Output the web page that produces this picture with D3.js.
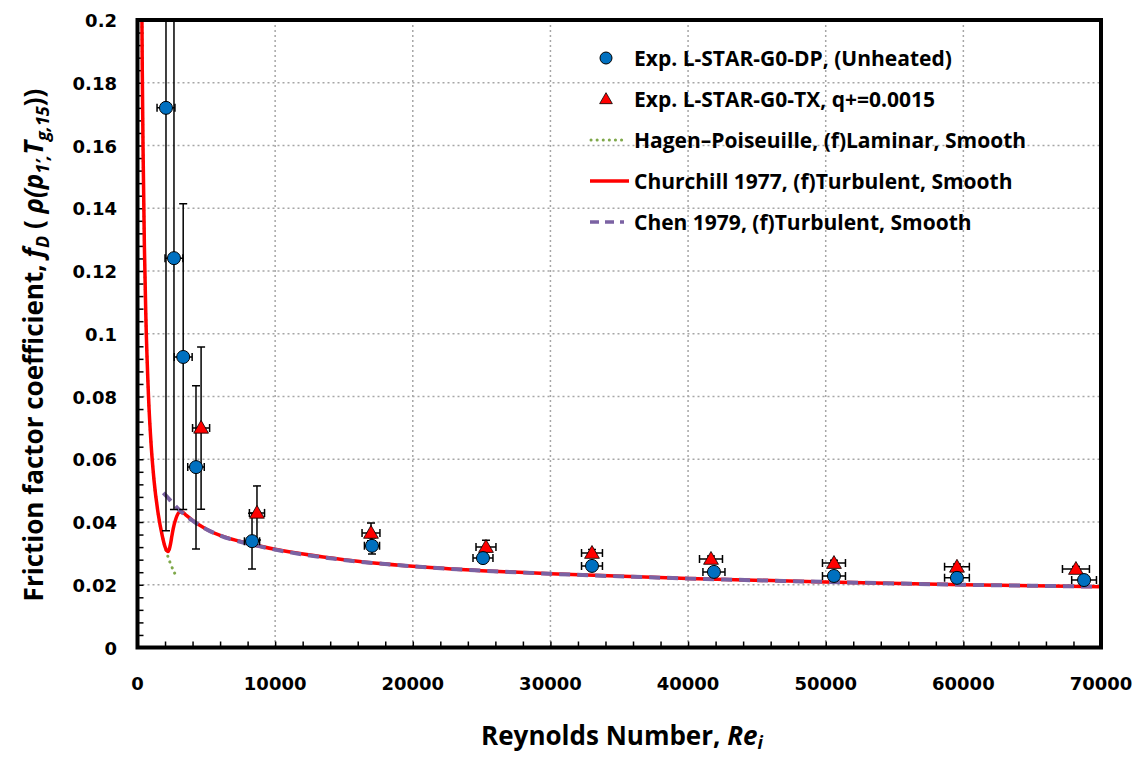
<!DOCTYPE html>
<html>
<head>
<meta charset="utf-8">
<script src="https://cdn.jsdelivr.net/npm/d3@7"></script>
<style>
  body { margin: 0; background: #fff; }
  svg { display: block; }
  .tick-label { font-family: "DejaVu Sans", sans-serif; font-weight: bold; font-size: 18px; }
  .title { font-family: "Open Sans", Lato, sans-serif; font-weight: bold; }
</style>
</head>
<body>
<svg id="chart" width="1140" height="758"></svg>
<script>
// ---- data ----
// experimental points: Re, f, x error, y error (low / high)
const dpRe    = [2070, 2650, 3320, 4250, 8320, 17036, 25100, 33020, 41880, 50600, 59535, 68770]
const dpF     = [0.172, 0.1241, 0.0926, 0.0575, 0.0339, 0.0324, 0.0285, 0.0260, 0.0241, 0.0228, 0.0222, 0.0215]
const dpXErr  = [650, 650, 650, 600, 550, 550, 725, 760, 800, 835, 900, 900]
const dpYLo   = [0.0372, 0.0440, 0.0440, 0.0314, 0.0250, 0.0298, 0.0275, 0.0252, 0.0233, 0.0221, 0.0215, 0.0209]
const dpYHi   = [0.30, 0.30, 0.1414, 0.0834, 0.0428, 0.0350, 0.0295, 0.0268, 0.0249, 0.0235, 0.0229, 0.0221]

const txRe    = [4620, 8680, 16964, 25318, 33020, 41665, 50600, 59535, 68180]
const txF     = [0.0700, 0.0429, 0.0365, 0.0320, 0.0301, 0.0282, 0.0269, 0.0257, 0.0250]
const txXErr  = [620, 550, 650, 725, 760, 835, 835, 900, 980]
const txYLo   = [0.0441, 0.0343, 0.0340, 0.0305, 0.0290, 0.0272, 0.0260, 0.0248, 0.0242]
const txYHi   = [0.0958, 0.0515, 0.0397, 0.0342, 0.0312, 0.0292, 0.0278, 0.0266, 0.0258]

// Hagen–Poiseuille (laminar) curve
const hpRe = [300, 350, 400, 500, 600, 800, 1000, 1200, 1500, 1800, 2100, 2400, 2700]
const hpF  = [0.2133, 0.1829, 0.160, 0.128, 0.1067, 0.080, 0.064, 0.0533, 0.0427, 0.0356, 0.0305, 0.0267, 0.0237]

// Churchill 1977 curve
const chRe = [300, 350, 400, 500, 600, 800, 1000, 1200, 1500, 1800, 2000, 2100, 2200, 2300, 2400, 2500, 2600, 2800,
              3000, 3200, 3500, 4000, 5000, 6000, 8000, 10000, 15000, 20000, 25000, 30000, 40000, 50000, 60000, 70000]
const chF  = [0.2133, 0.1829, 0.160, 0.128, 0.1067, 0.080, 0.064, 0.0533, 0.0427, 0.0356, 0.0321, 0.0310, 0.0306, 0.0312, 0.0330, 0.0356, 0.0380, 0.0412,
              0.0430, 0.0433, 0.0423, 0.0405, 0.0377, 0.0357, 0.0332, 0.0313, 0.0280, 0.0259, 0.0245, 0.0235, 0.0220, 0.0209, 0.0200, 0.0194]

// Chen 1979 curve
const cnRe = [1880, 2200, 2500, 3000, 3500, 4000, 5000, 6000, 8000, 10000, 15000, 20000, 25000, 30000, 40000, 50000, 60000, 70000]
const cnF  = [0.0493, 0.0478, 0.0463, 0.0440, 0.0421, 0.0404, 0.0377, 0.0357, 0.0331, 0.0312, 0.0279, 0.0259, 0.0245, 0.0235, 0.0220, 0.0209, 0.0200, 0.0194]

const xTicks = [0, 10000, 20000, 30000, 40000, 50000, 60000, 70000]
const yTicks = [0, 0.02, 0.04, 0.06, 0.08, 0.1, 0.12, 0.14, 0.16, 0.18, 0.2]

const legendItems = [
  { label: 'Exp. L-STAR-G0-DP, (Unheated)', kind: 'circle' },
  { label: 'Exp. L-STAR-G0-TX, q+=0.0015', kind: 'triangle' },
  { label: 'Hagen\u2013Poiseuille, (f)Laminar, Smooth', kind: 'hp' },
  { label: 'Churchill 1977, (f)Turbulent, Smooth', kind: 'ch' },
  { label: 'Chen 1979, (f)Turbulent, Smooth', kind: 'cn' },
]

// ---- layout ----
const svg = d3.select('#chart')
const plotLeft = 137.5, plotRight = 1101, plotTop = 20, plotBottom = 647.5

const x = d3.scaleLinear().domain([0, 70000]).range([plotLeft, plotRight])
const y = d3.scaleLinear().domain([0, 0.2]).range([plotBottom, plotTop])

const blue = '#0070C0', red = '#FF0000', purple = '#7B62A3', green = '#7FA84A'

svg.append('defs').append('clipPath').attr('id', 'plot')
  .append('rect').attr('x', plotLeft).attr('y', plotTop)
  .attr('width', plotRight - plotLeft).attr('height', plotBottom - plotTop)

// grid
const grid = svg.append('g')
grid.selectAll('line.gx')
  .data(xTicks.slice(1, -1))
  .join('line')
  .attr('class', 'gx')
  .attr('x1', d => x(d)).attr('x2', d => x(d))
  .attr('y1', plotTop).attr('y2', plotBottom)
  .attr('stroke', '#A6A6A6').attr('stroke-width', 1.5).attr('stroke-dasharray', '2,3')
grid.selectAll('line.gy')
  .data(yTicks.slice(1, -1))
  .join('line')
  .attr('class', 'gy')
  .attr('x1', plotLeft).attr('x2', plotRight)
  .attr('y1', d => y(d)).attr('y2', d => y(d))
  .attr('stroke', '#A6A6A6').attr('stroke-width', 1.5).attr('stroke-dasharray', '2,3')

// axes with inward minor ticks
const xAxis = d3.axisBottom(x).tickValues(d3.range(0, 70001, 2000)).tickSize(-6).tickFormat('')
const yAxis = d3.axisLeft(y).tickValues(d3.range(0, 0.2001, 0.004)).tickSize(-6).tickFormat('')
svg.append('g').attr('transform', `translate(0,${plotBottom})`).call(xAxis)
  .call(g => g.select('.domain').remove())
  .call(g => g.selectAll('line').attr('stroke', '#000').attr('stroke-width', 1.5))
svg.append('g').attr('transform', `translate(${plotLeft},0)`).call(yAxis)
  .call(g => g.select('.domain').remove())
  .call(g => g.selectAll('line').attr('stroke', '#000').attr('stroke-width', 1.5))

// tick labels
svg.append('g').selectAll('text')
  .data(xTicks)
  .join('text')
  .attr('class', 'tick-label')
  .attr('x', d => x(d)).attr('y', 690)
  .attr('text-anchor', 'middle')
  .text(d => d)
svg.append('g').selectAll('text')
  .data(yTicks)
  .join('text')
  .attr('class', 'tick-label')
  .attr('x', 117).attr('y', d => y(d) + 7)
  .attr('text-anchor', 'end')
  .text(d => +d.toFixed(2))

// curves
const plot = svg.append('g').attr('clip-path', 'url(#plot)')
const line = d3.line().x(d => x(d[0])).y(d => y(d[1])).curve(d3.curveMonotoneX)

plot.append('path')
  .datum(d3.zip(hpRe, hpF))
  .attr('d', line)
  .attr('fill', 'none').attr('stroke', green).attr('stroke-width', 3)
  .attr('stroke-linecap', 'round').attr('stroke-dasharray', '0.1,6')
plot.append('path')
  .datum(d3.zip(chRe, chF))
  .attr('d', line)
  .attr('fill', 'none').attr('stroke', red).attr('stroke-width', 3.5)
plot.append('path')
  .datum(d3.zip(cnRe, cnF))
  .attr('d', line)
  .attr('fill', 'none').attr('stroke', purple).attr('stroke-width', 4)
  .attr('stroke-dasharray', '11,7')

// error bars
function errorBars(re, f, xErr, yLo, yHi) {
  const g = plot.append('g').attr('stroke', '#000').attr('stroke-width', 1.5)
  re.forEach((r, i) => {
    const cx = x(r), cy = y(f[i])
    g.append('line').attr('x1', cx).attr('x2', cx).attr('y1', y(yLo[i])).attr('y2', y(yHi[i]))
    g.append('line').attr('x1', cx - 4).attr('x2', cx + 4).attr('y1', y(yLo[i])).attr('y2', y(yLo[i]))
    g.append('line').attr('x1', cx - 4).attr('x2', cx + 4).attr('y1', y(yHi[i])).attr('y2', y(yHi[i]))
    g.append('line').attr('x1', x(r - xErr[i])).attr('x2', x(r + xErr[i])).attr('y1', cy).attr('y2', cy)
    g.append('line').attr('x1', x(r - xErr[i])).attr('x2', x(r - xErr[i])).attr('y1', cy - 4).attr('y2', cy + 4)
    g.append('line').attr('x1', x(r + xErr[i])).attr('x2', x(r + xErr[i])).attr('y1', cy - 4).attr('y2', cy + 4)
  })
}
errorBars(dpRe, dpF, dpXErr, dpYLo, dpYHi)
errorBars(txRe, txF, txXErr, txYLo, txYHi)

const triangle = d3.symbol().type(d3.symbolTriangle).size(95)

plot.selectAll('path.tx')
  .data(d3.zip(txRe, txF))
  .join('path')
  .attr('class', 'tx')
  .attr('d', triangle)
  .attr('transform', d => `translate(${x(d[0])},${y(d[1]) + 1})`)
  .attr('fill', red).attr('stroke', '#000').attr('stroke-width', 0.8)

plot.selectAll('circle.dp')
  .data(d3.zip(dpRe, dpF))
  .join('circle')
  .attr('class', 'dp')
  .attr('cx', d => x(d[0])).attr('cy', d => y(d[1]))
  .attr('r', 6.5)
  .attr('fill', blue).attr('stroke', '#000').attr('stroke-width', 1)

// frame
svg.append('rect')
  .attr('x', plotLeft).attr('y', plotTop)
  .attr('width', plotRight - plotLeft).attr('height', plotBottom - plotTop)
  .attr('fill', 'none').attr('stroke', '#000').attr('stroke-width', 4)

// legend
const legend = svg.append('g').attr('transform', 'translate(590,58)')
const rows = legend.selectAll('g')
  .data(legendItems)
  .join('g')
  .attr('transform', (d, i) => `translate(0,${i * 41})`)
rows.append('text')
  .attr('class', 'title')
  .attr('x', 44).attr('y', 7.5)
  .attr('font-size', 21)
  .text(d => d.label)
rows.each(function(d) {
  const g = d3.select(this)
  if (d.kind === 'circle') {
    g.append('circle').attr('cx', 16).attr('r', 6).attr('fill', blue).attr('stroke', '#000').attr('stroke-width', 1)
  } else if (d.kind === 'triangle') {
    g.append('path').attr('d', d3.symbol().type(d3.symbolTriangle).size(70)).attr('transform', 'translate(16,1)')
      .attr('fill', red).attr('stroke', '#000').attr('stroke-width', 0.8)
  } else if (d.kind === 'hp') {
    g.append('line').attr('x1', 1).attr('x2', 33).attr('stroke', green).attr('stroke-width', 3)
      .attr('stroke-linecap', 'round').attr('stroke-dasharray', '0.1,6')
  } else if (d.kind === 'ch') {
    g.append('line').attr('x1', 0).attr('x2', 39).attr('stroke', red).attr('stroke-width', 3.5)
  } else {
    g.append('line').attr('x1', 0).attr('x2', 34).attr('stroke', purple).attr('stroke-width', 3.5)
      .attr('stroke-dasharray', '9,6')
  }
})

// axis titles
const xt = svg.append('text').attr('class', 'title')
  .attr('x', 622).attr('y', 745).attr('text-anchor', 'middle').attr('font-size', 26)
xt.append('tspan').text('Reynolds Number, ')
xt.append('tspan').attr('font-style', 'italic').text('Re')
xt.append('tspan').attr('font-style', 'italic').attr('font-size', 18).attr('dy', 4).text('i')

const yt = svg.append('text').attr('class', 'title')
  .attr('transform', 'translate(43,345) rotate(-90)')
  .attr('text-anchor', 'middle').attr('font-size', 26)
yt.append('tspan').text('Friction factor coefficient, ')
yt.append('tspan').attr('font-style', 'italic').text('f')
yt.append('tspan').attr('font-style', 'italic').attr('font-size', 18).attr('dy', 6).text('D')
yt.append('tspan').attr('dy', -6).text(' ( ')
yt.append('tspan').attr('font-style', 'italic').text('\u03c1(p')
yt.append('tspan').attr('font-style', 'italic').attr('font-size', 18).attr('dy', 6).text('1\u2019,')
yt.append('tspan').attr('font-style', 'italic').attr('dy', -6).text('T')
yt.append('tspan').attr('font-style', 'italic').attr('font-size', 18).attr('dy', 6).text('g,15')
yt.append('tspan').attr('dy', -6).text('))')
</script>
</body>
</html>
